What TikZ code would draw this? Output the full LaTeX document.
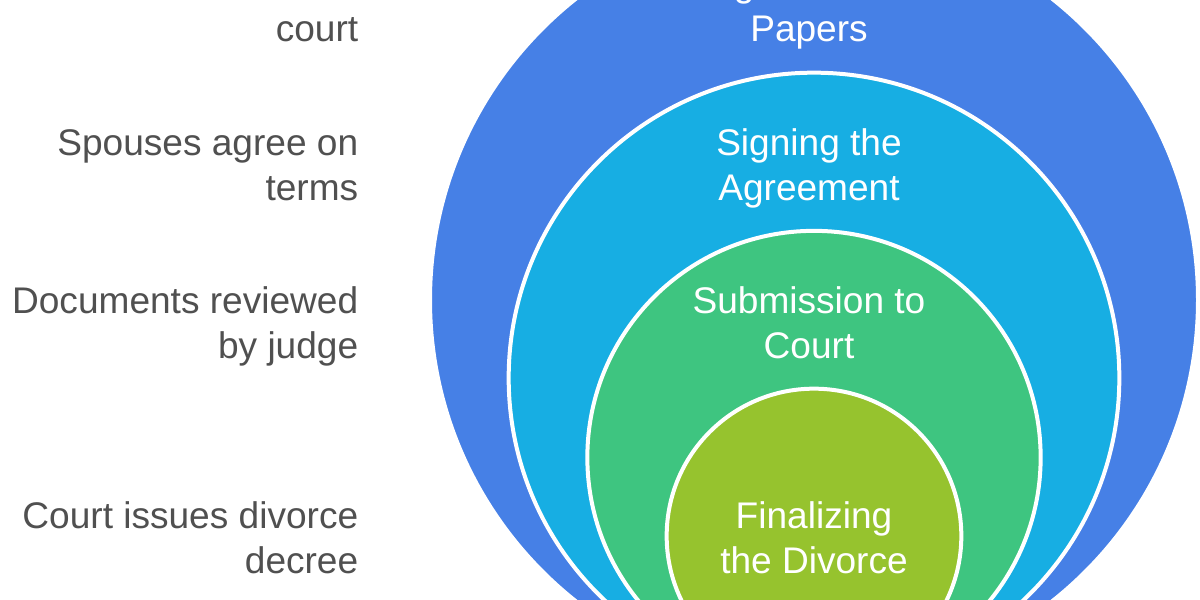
\documentclass[tikz,border=0pt]{standalone}
\usepackage{fontspec}
\setmainfont{Liberation Sans}
\definecolor{cA}{HTML}{4680E6}
\definecolor{cB}{HTML}{17AEE3}
\definecolor{cC}{HTML}{3EC580}
\definecolor{cD}{HTML}{96C32E}
\definecolor{txt}{HTML}{505050}
\tikzset{
  ring/.style={draw=white,line width=3pt,circle,minimum size=#1,inner sep=0pt},
  lab/.style={text=txt,font=\fontsize{27.8pt}{33.75pt}\selectfont,align=right,anchor=east,inner sep=0pt},
  ttl/.style={text=white,font=\fontsize{27.8pt}{33.75pt}\selectfont,align=center,inner sep=0pt},
}
\begin{document}
\begin{tikzpicture}[x=1pt,y=-1pt]
\useasboundingbox (0,0) rectangle (900,450);
\begin{scope}[x=0.75pt,y=-0.75pt]
\clip (0,0) rectangle (1200,600);
\fill[white] (0,0) rectangle (1200,600);
\node[ring=576pt,fill=cA] (c1) at (814,300) {};
\node[ring=458pt,fill=cB] (c2) at (814,378) {};
\node[ring=340pt,fill=cC] (c3) at (814,457.5) {};
\node[ring=221pt,fill=cD] (c4) at (814,536) {};
\node[ttl] (t1) at (809,9) {Filing the Divorce\\Papers};
\node[ttl] (t2) at (809,168) {Signing the\\Agreement};
\node[ttl] (t3) at (809,323) {Submission to\\Court};
\node[ttl] (t4) at (814,538) {Finalizing\\the Divorce};
\node[lab] (l1) at (358.5,6) {Petition filed with\\court};
\node[lab] (l2) at (358.5,165) {Spouses agree on\\terms};
\node[lab] (l3) at (358.5,326) {Documents reviewed\\by judge};
\node[lab] (l4) at (358.5,538) {Court issues divorce\\decree};
\end{scope}
\end{tikzpicture}
\end{document}
